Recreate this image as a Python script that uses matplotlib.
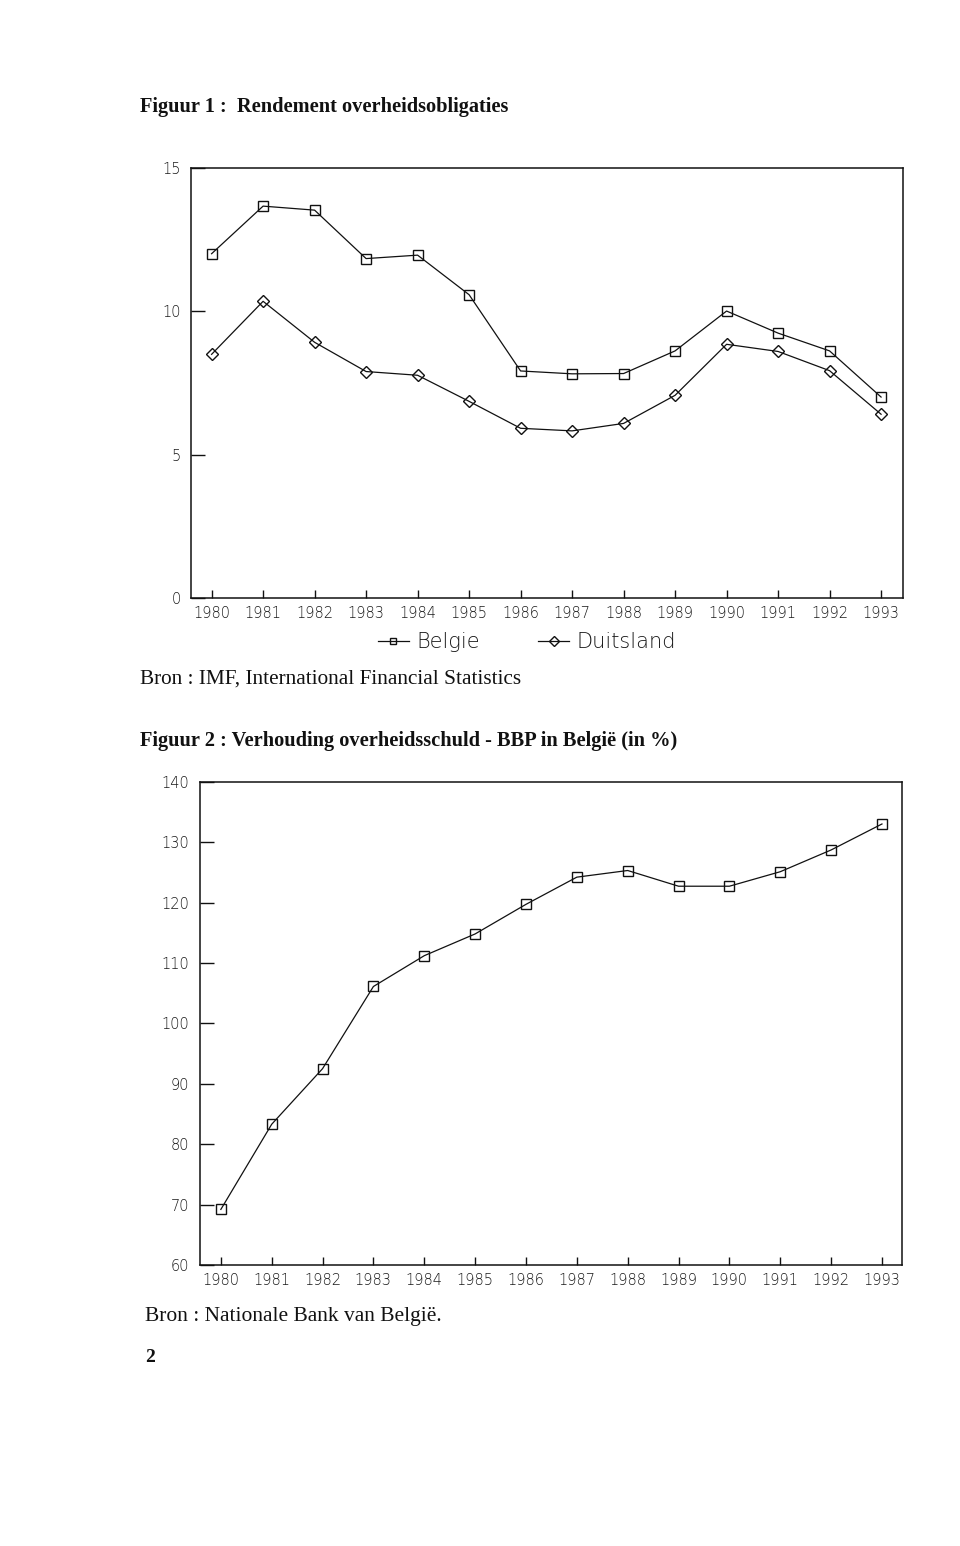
import matplotlib
matplotlib.use("Agg")
import matplotlib.pyplot as plt

years = list(range(1980, 1994))
year_labels = [str(y) for y in years]

belgie_rente = [12.01, 13.67, 13.53, 11.84, 11.96, 10.58, 7.92, 7.82, 7.83, 8.62, 10.01, 9.24, 8.62, 7.01]
duitsland_rente = [8.50, 10.35, 8.92, 7.90, 7.77, 6.86, 5.92, 5.83, 6.09, 7.07, 8.85, 8.60, 7.93, 6.41]

schuld_bbp = [69.2, 83.3, 92.5, 106.1, 111.2, 114.8, 119.7, 124.2, 125.3, 122.7, 122.7, 125.1, 128.7, 133.0]

y1_ticks = [0, 5, 10, 15]
y2_ticks = [60, 70, 80, 90, 100, 110, 120, 130, 140]

W, H = 960, 1546
fig = plt.figure(figsize=(W / 100, H / 100), dpi=100)

tick_font = dict(family="DejaVu Sans", weight=200)
serif = "Liberation Serif"
ink = "#111111"
lab = "#1a1a1a"


def fx(px):
    return px / W


def fy(py):
    return 1 - py / H


def style_axes(ax, yticks, ylab_pad):
    for s in ax.spines.values():
        s.set_linewidth(1.1)
        s.set_color(ink)
    ax.set_xticks(years)
    ax.set_xticklabels(year_labels, fontsize=10.5, color=lab, **tick_font)
    ax.set_yticks(yticks)
    ax.set_yticklabels([str(v) for v in yticks], fontsize=10.5, color=lab, **tick_font)
    ax.tick_params(axis="x", direction="in", length=6, width=1.0, pad=6, colors=ink, labelcolor=lab)
    ax.tick_params(axis="y", direction="in", length=10, width=1.0, pad=ylab_pad, colors=ink, labelcolor=lab)
    ax.tick_params(top=False, right=False)


# ---------- Figure 1 ----------
ax1 = fig.add_axes([fx(191), fy(598), fx(902.7) - fx(191), (598 - 168) / H])
l1, = ax1.plot(years, belgie_rente, color=ink, lw=0.9, marker="s", ms=6.5,
               mfc="none", mec=ink, mew=1.0, label="Belgie")
l2, = ax1.plot(years, duitsland_rente, color=ink, lw=0.9, marker="D", ms=6.3,
               mfc="none", mec=ink, mew=1.0, label="Duitsland")
ax1.set_xlim(1979.6, 1993.42)
ax1.set_ylim(0, 15)
style_axes(ax1, y1_ticks, 7)

leg = ax1.legend(handles=[l1, l2], ncol=2, frameon=False, loc="center",
                 bbox_to_anchor=(0.472, -0.102),
                 prop=dict(family="DejaVu Sans", weight=200, size=15),
                 handlelength=1.5, handletextpad=0.34, columnspacing=2.8,
                 markerscale=0.75)
for t in leg.get_texts():
    t.set_color(lab)

# ---------- Figure 2 ----------
ax2 = fig.add_axes([fx(200), fy(1265), fx(902.3) - fx(200), (1265 - 781.7) / H])
ax2.plot(years, schuld_bbp, color=ink, lw=0.9, marker="s", ms=6.5,
         mfc="none", mec=ink, mew=1.0)
ax2.set_xlim(1979.59, 1993.4)
ax2.set_ylim(60, 140)
style_axes(ax2, y2_ticks, 8)

# ---------- page texts ----------
fig.text(fx(140), fy(107), "Figuur 1 :  Rendement overheidsobligaties",
         family=serif, weight="bold", fontsize=14.7, color=ink, va="center", ha="left")
fig.text(fx(140), fy(679), "Bron : IMF, International Financial Statistics",
         family=serif, fontsize=15.3, color=ink, va="center", ha="left")
fig.text(fx(140), fy(741), "Figuur 2 : Verhouding overheidsschuld - BBP in België (in %)",
         family=serif, weight="bold", fontsize=14.7, color=ink, va="center", ha="left")
fig.text(fx(145), fy(1316), "Bron : Nationale Bank van België.",
         family=serif, fontsize=15.5, color=ink, va="center", ha="left")
fig.text(fx(145), fy(1358), "2",
         family=serif, weight="bold", fontsize=14, color=ink, va="center", ha="left")

fig.savefig("out.png", dpi=100, facecolor="white")
